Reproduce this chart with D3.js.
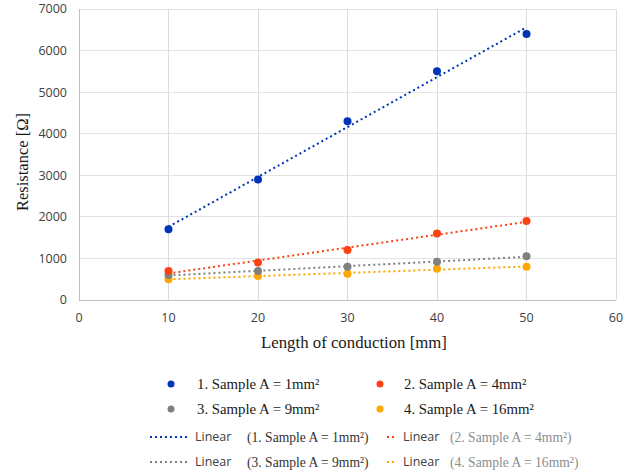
<!DOCTYPE html>
<html><head><meta charset="utf-8">
<script src="https://cdn.jsdelivr.net/npm/d3@7"></script>
<style>body{margin:0;background:#fff}svg{display:block}</style>
</head><body><svg id="c" width="632" height="472"></svg>
<script>
const lengths = [10, 20, 30, 40, 50];
const sample1 = [1700, 2900, 4300, 5500, 6400];
const sample2 = [700, 900, 1200, 1600, 1900];
const sample3 = [600, 700, 800, 920, 1050];
const sample4 = [500, 580, 630, 750, 800];
const seriesNames = ["1. Sample A = 1mm²", "2. Sample A = 4mm²", "3. Sample A = 9mm²", "4. Sample A = 16mm²"];
const seriesColors = ["#0033b8", "#fa4212", "#808080", "#ffa600"];
const xTicks = [0, 10, 20, 30, 40, 50, 60];
const yTicks = [0, 1000, 2000, 3000, 4000, 5000, 6000, 7000];

const series = [sample1, sample2, sample3, sample4].map((v, i) => ({name: seriesNames[i], color: seriesColors[i], values: v}));

const svg = d3.select("#c");
const x = d3.scaleLinear().domain([0, 60]).range([79, 616]);
const y = d3.scaleLinear().domain([0, 7000]).range([300, 9]);

const tickFont = "'Open Sans', 'Liberation Sans', sans-serif";
const serif = "'Liberation Serif', 'DejaVu Serif', serif";

// gridlines
const g = svg.append("g");
g.selectAll(".hg").data(yTicks.slice(1)).join("line")
  .attr("x1", x(0)).attr("x2", x(60)).attr("y1", d => y(d)).attr("y2", d => y(d))
  .attr("stroke", "#e3e3e3").attr("stroke-width", 1).attr("shape-rendering", "crispEdges");
g.selectAll(".vg").data(xTicks.slice(1)).join("line")
  .attr("x1", d => x(d)).attr("x2", d => x(d)).attr("y1", y(0)).attr("y2", y(7000))
  .attr("stroke", "#dcdcdc").attr("stroke-width", 1).attr("shape-rendering", "crispEdges");
g.append("line").attr("x1", x(0)).attr("x2", x(60)).attr("y1", y(0)).attr("y2", y(0))
  .attr("stroke", "#bfbfbf").attr("shape-rendering", "crispEdges");
g.append("line").attr("x1", x(0)).attr("x2", x(0)).attr("y1", y(0)).attr("y2", y(7000))
  .attr("stroke", "#bfbfbf").attr("shape-rendering", "crispEdges");

// tick labels
svg.append("g").selectAll("text").data(yTicks).join("text")
  .attr("x", 67).attr("y", d => y(d)).attr("dy", "0.35em").attr("text-anchor", "end")
  .attr("font-family", tickFont).attr("font-size", 12.5).attr("fill", "#404040").text(d => d);
svg.append("g").selectAll("text").data(xTicks).join("text")
  .attr("x", d => x(d)).attr("y", 318).attr("dy", "0.35em").attr("text-anchor", "middle")
  .attr("font-family", tickFont).attr("font-size", 12.5).attr("fill", "#404040").text(d => d);

// axis titles
svg.append("text").attr("x", 354).attr("y", 342).attr("dy", "0.35em").attr("text-anchor", "middle")
  .attr("font-family", serif).attr("font-size", 16.8).attr("fill", "#1a1a1a").text("Length of conduction [mm]");
svg.append("text").attr("transform", "translate(22,162) rotate(-90)").attr("dy", "0.35em").attr("text-anchor", "middle")
  .attr("font-family", serif).attr("font-size", 16.5).attr("fill", "#1a1a1a").text("Resistance [Ω]");

// trendlines (least squares from data)
function fit(vals) {
  const mx = d3.mean(lengths), my = d3.mean(vals);
  let sxy = 0, sxx = 0;
  lengths.forEach((l, i) => { sxy += (l - mx) * (vals[i] - my); sxx += (l - mx) ** 2; });
  const b = sxy / sxx, a = my - b * mx;
  return xv => a + b * xv;
}
const line = d3.line().x(d => x(d[0])).y(d => y(d[1]));
series.slice().reverse().forEach(s => {
  const f = fit(s.values);
  const pts = [lengths[0], lengths[lengths.length - 1]].map(l => [l, f(l)]);
  svg.append("path").attr("d", line(pts)).attr("fill", "none").attr("stroke", s.color)
    .attr("stroke-width", 2).attr("stroke-dasharray", "2,3");
});
// points
series.slice().reverse().forEach(s => {
  svg.append("g").selectAll("circle").data(lengths.map((l, i) => [l, s.values[i]])).join("circle")
    .attr("cx", d => x(d[0])).attr("cy", d => y(d[1])).attr("r", 4).attr("fill", s.color);
});

// legend
const leg = svg.append("g");
const colX = [171, 380], rowY = [384, 409];
series.forEach((s, i) => {
  const cx = colX[i % 2], cy = rowY[Math.floor(i / 2)];
  leg.append("circle").attr("cx", cx).attr("cy", cy).attr("r", 3.5).attr("fill", s.color);
  leg.append("text").attr("x", cx + (i % 2 === 0 ? 26 : 24)).attr("y", cy).attr("dy", "0.35em")
    .attr("font-family", serif).attr("font-size", 14.8).attr("fill", "#1a1a1a").text(s.name);
});
const trendRowY = [437, 462];
series.forEach((s, i) => {
  const col = i % 2, ry = trendRowY[Math.floor(i / 2)];
  const lx0 = col === 0 ? 150 : 387, lx1 = col === 0 ? 190 : 396;
  leg.append("line").attr("x1", lx0).attr("x2", lx1).attr("y1", ry).attr("y2", ry)
    .attr("stroke", s.color).attr("stroke-width", 2).attr("stroke-dasharray", "2,3");
  const tx = col === 0 ? 195 : 403;
  leg.append("text").attr("x", tx).attr("y", ry).attr("dy", "0.35em")
    .attr("font-family", tickFont).attr("font-size", 12.5).attr("fill", "#404040").text("Linear");
  leg.append("text").attr("x", col === 0 ? 247 : 450).attr("y", ry).attr("dy", "0.35em")
    .attr("font-family", serif).attr("font-size", 13.6).attr("fill", col === 0 ? "#333" : "#8c8c8c")
    .text("(" + s.name + ")");
});
</script></body></html>
